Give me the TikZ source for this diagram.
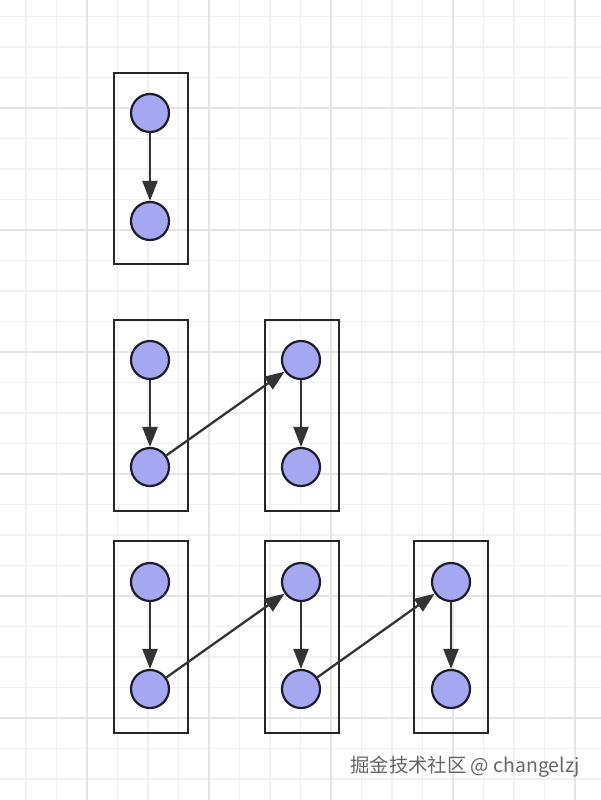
\documentclass[tikz,border=0pt]{standalone}
\usepackage{fontspec}
\newfontfamily\cjk{Noto Sans CJK SC}
\usetikzlibrary{arrows.meta}
\definecolor{minorgrid}{HTML}{F0F0F0}
\definecolor{majorgrid}{HTML}{E4E4E4}
\definecolor{nodefill}{HTML}{A5A8F0}
\definecolor{nodeline}{HTML}{1C1C2C}
\definecolor{arrowcol}{HTML}{333333}
\tikzset{
  x=1pt, y=1pt,
  ball/.style={circle, draw=nodeline, line width=2.2pt, fill=nodefill, minimum size=38pt, inner sep=0pt},
  frame/.style={draw=black!85, line width=2.8pt, fill=none, inner sep=0pt, minimum width=74pt},
  link/.style={draw=arrowcol, line width=2.3pt, -{Triangle[length=20pt,width=15pt]}}
}
\begin{document}
\begin{tikzpicture}
\fill[white] (0,0) rectangle (601,-800);
\useasboundingbox (0,0) rectangle (601,-800);
% grid
\begin{scope}[shift={(87,-108)}]
  \draw[minorgrid, line width=1.1pt, step=30.5] (-87,-692) grid (514,108);
  \draw[majorgrid, line width=1.3pt, step=122] (-87,-692) grid (514,108);
\end{scope}
% frames
\node[frame, minimum height=191pt] (f1) at (151,-168.5) {};
\node[frame, minimum height=191pt] (f2a) at (151,-415.5) {};
\node[frame, minimum height=191pt] (f2b) at (302,-415.5) {};
\node[frame, minimum height=192pt] (f3a) at (151,-637) {};
\node[frame, minimum height=192pt] (f3b) at (302,-637) {};
\node[frame, minimum height=192pt] (f3c) at (451,-637) {};
% balls
\node[ball] (a1) at (150,-113) {};
\node[ball] (a2) at (150,-221) {};
\node[ball] (b1) at (150,-360) {};
\node[ball] (b2) at (150,-467) {};
\node[ball] (c1) at (301,-360) {};
\node[ball] (c2) at (301,-467) {};
\node[ball] (d1) at (150,-582) {};
\node[ball] (d2) at (150,-689) {};
\node[ball] (e1) at (301,-582) {};
\node[ball] (e2) at (301,-689) {};
\node[ball] (g1) at (451,-582) {};
\node[ball] (g2) at (451,-689) {};
% links
\draw[link] (a1) -- (a2);
\draw[link] (b1) -- (b2);
\draw[link] (c1) -- (c2);
\draw[link] (b2) -- (c1);
\draw[link] (d1) -- (d2);
\draw[link] (e1) -- (e2);
\draw[link] (g1) -- (g2);
\draw[link] (d2) -- (e1);
\draw[link] (e2) -- (g1);
% watermark
\node[anchor=west, inner sep=0pt, text=black!60, font=\cjk\fontsize{19.4}{22}\selectfont] (wm) at (350,-767) {掘金技术社区 @ changelzj};
\end{tikzpicture}
\end{document}
